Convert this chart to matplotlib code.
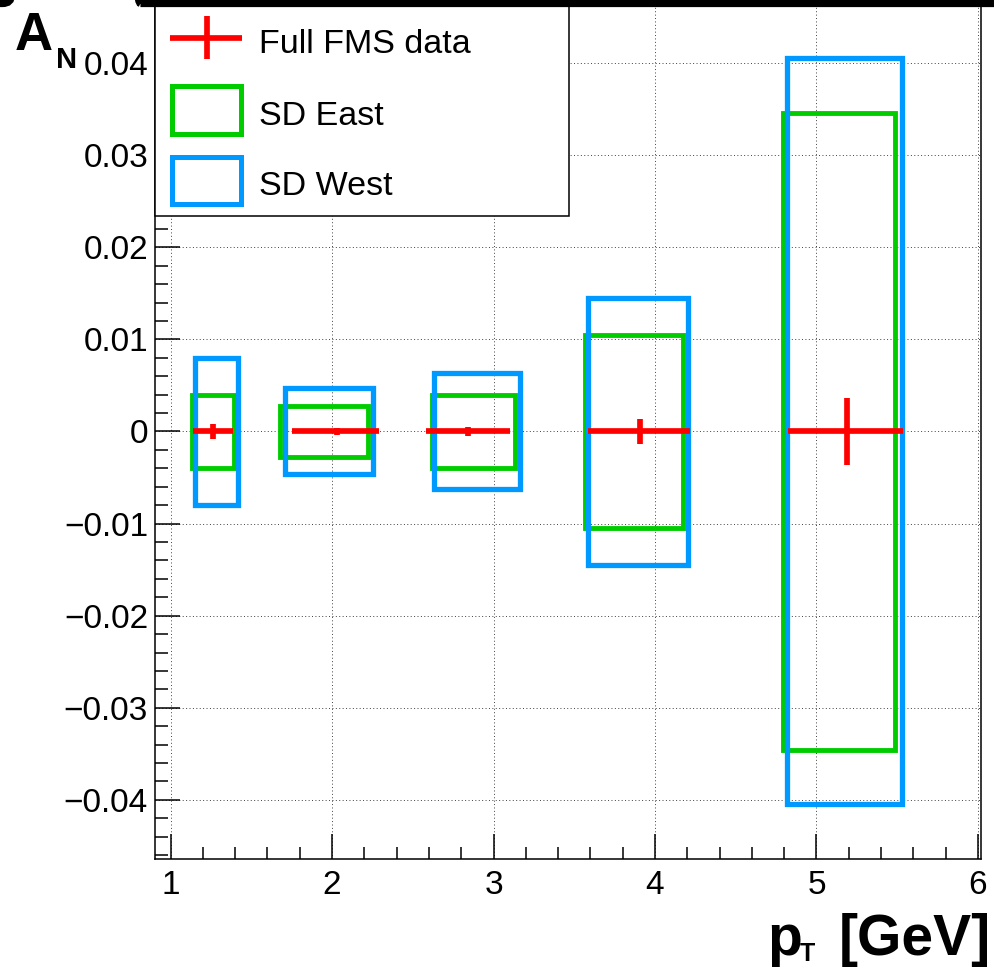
import matplotlib
matplotlib.use("Agg")
import matplotlib.pyplot as plt
from matplotlib.patches import Rectangle, FancyBboxPatch
from matplotlib.lines import Line2D
from matplotlib.ticker import MultipleLocator, FixedLocator, FuncFormatter

# ---------------- data ----------------
pt_mean = [1.261, 2.029, 2.844, 3.905, 5.187]
pt_low = [1.137, 1.752, 2.582, 3.587, 4.825]
pt_high = [1.389, 2.291, 3.102, 4.217, 5.538]
an_full = [0.0, 0.0, 0.0, 0.0, 0.0]
an_full_err = [0.00078, 0.00036, 0.00051, 0.00138, 0.00366]

east_low = [1.136, 1.678, 2.619, 3.567, 4.793]
east_high = [1.393, 2.223, 3.133, 4.173, 5.486]
east_err = [0.0040, 0.00275, 0.0040, 0.0105, 0.0346]

west_low = [1.154, 1.709, 2.632, 3.585, 4.818]
west_high = [1.418, 2.254, 3.164, 4.207, 5.530]
west_err = [0.0080, 0.00467, 0.0063, 0.0145, 0.0405]

legend_labels = ["Full FMS data", "SD East", "SD West"]
x_ticks = [1, 2, 3, 4, 5, 6]
y_ticks = [-0.04, -0.03, -0.02, -0.01, 0.0, 0.01, 0.02, 0.03, 0.04]

# ---------------- style ----------------
RED = "#ff0000"
GREEN = "#00cc00"
BLUE = "#0099ff"
FONT = "Liberation Sans"
plt.rcParams["font.family"] = [FONT, "DejaVu Sans"]

W, H = 994, 968
fig = plt.figure(figsize=(W / 100, H / 100), dpi=100)


def fx(px):
    return px / W


def fy(py):
    return 1 - py / H


ax_left, ax_right, ax_bottom, ax_top = 155, 981, 859, 3.2
ax = fig.add_axes([fx(ax_left), fy(ax_bottom), fx(ax_right) - fx(ax_left), fy(ax_top) - fy(ax_bottom)])
ax.set_xlim(0.904, 6.0186)
ax.set_ylim(-0.04642, 0.0465)

# grid
ax.set_axisbelow(True)
ax.xaxis.set_major_locator(FixedLocator(x_ticks))
ax.yaxis.set_major_locator(FixedLocator(y_ticks))
ax.xaxis.set_minor_locator(MultipleLocator(0.2))
ax.yaxis.set_minor_locator(MultipleLocator(0.002))
ax.grid(True, which="major", color="black", linestyle=(0, (1, 2.5)), linewidth=0.7, alpha=0.75)


def yfmt(v, pos):
    if abs(v) < 1e-9:
        return "0"
    return ("%.2f" % v).replace("-", "\u2212")


ax.yaxis.set_major_formatter(FuncFormatter(yfmt))
ax.xaxis.set_major_formatter(FuncFormatter(lambda v, p: "%d" % v))
ax.tick_params(which="both", direction="in", top=False, right=False, color="black", width=1.1)
ax.tick_params(which="major", length=18, labelsize=24)
ax.tick_params(which="minor", length=9)
ax.tick_params(axis="y", which="major", pad=5)
ax.tick_params(axis="x", which="major", pad=8)
for s in ax.spines.values():
    s.set_linewidth(1.1)
    s.set_color("black")

# boxes: East first, West above it
for lo, hi, e in zip(east_low, east_high, east_err):
    ax.add_patch(Rectangle((lo, -e), hi - lo, 2 * e, fill=False, edgecolor=GREEN,
                           linewidth=3.5, joinstyle="miter", zorder=3))
for lo, hi, e in zip(west_low, west_high, west_err):
    ax.add_patch(Rectangle((lo, -e), hi - lo, 2 * e, fill=False, edgecolor=BLUE,
                           linewidth=3.8, joinstyle="miter", zorder=4))

# full FMS data
xerr = [[m - l for m, l in zip(pt_mean, pt_low)], [h - m for m, h in zip(pt_mean, pt_high)]]
ax.errorbar(pt_mean, an_full, xerr=xerr, yerr=an_full_err, fmt="none", ecolor=RED,
            elinewidth=4.1, capsize=0, zorder=5)

# ---------------- legend (drawn by hand, ROOT style) ----------------
tf = fig.transFigure
leg = Rectangle((fx(155), fy(216)), fx(569) - fx(155), fy(-20) - fy(216), transform=tf,
                facecolor="white", edgecolor="black", linewidth=1.1, zorder=20, clip_on=False)
fig.patches.append(leg)
fig.lines.append(Line2D([fx(170), fx(242)], [fy(38), fy(38)], transform=tf, color=RED,
                        linewidth=4.1, solid_capstyle="butt", zorder=21))
fig.lines.append(Line2D([fx(207), fx(207)], [fy(16), fy(59)], transform=tf, color=RED,
                        linewidth=4.1, solid_capstyle="butt", zorder=21))
fig.patches.append(Rectangle((fx(172), fy(133.5)), fx(241) - fx(172), fy(86) - fy(133.5), transform=tf,
                             fill=False, edgecolor=GREEN, linewidth=3.6, zorder=21))
fig.patches.append(Rectangle((fx(172), fy(204)), fx(241) - fx(172), fy(157) - fy(204), transform=tf,
                             fill=False, edgecolor=BLUE, linewidth=3.6, zorder=21))
for lab, base in zip(legend_labels, [52.7, 125, 195]):
    fig.text(fx(259), fy(base), lab, fontsize=24.5, ha="left", va="baseline", zorder=22)

# ---------------- axis titles ----------------
fig.text(fx(15), fy(50), "A", fontsize=38, fontweight="bold", ha="left", va="baseline")
fig.text(fx(56), fy(68), "N", fontsize=21, fontweight="bold", ha="left", va="baseline")
fig.text(fx(767), fy(955), "p", fontsize=41, fontweight="bold", ha="left", va="baseline")
fig.text(fx(800), fy(961), "T", fontsize=18, fontweight="bold", ha="left", va="baseline")
fig.text(fx(991), fy(955), "[GeV]", fontsize=41, fontweight="bold", ha="right", va="baseline")

# ---------------- cropped pave borders at the top ----------------
for x0, x1 in [(-200, 11.5), (131.5, 1200)]:
    fig.patches.append(FancyBboxPatch((fx(x0), fy(3.5)), fx(x1) - fx(x0), 0.3,
                                      boxstyle="round,pad=0,rounding_size=0.009", transform=tf,
                                      facecolor="none", edgecolor="black", linewidth=5.2,
                                      zorder=30, clip_on=False))

fig.savefig("out.png", dpi=100)
